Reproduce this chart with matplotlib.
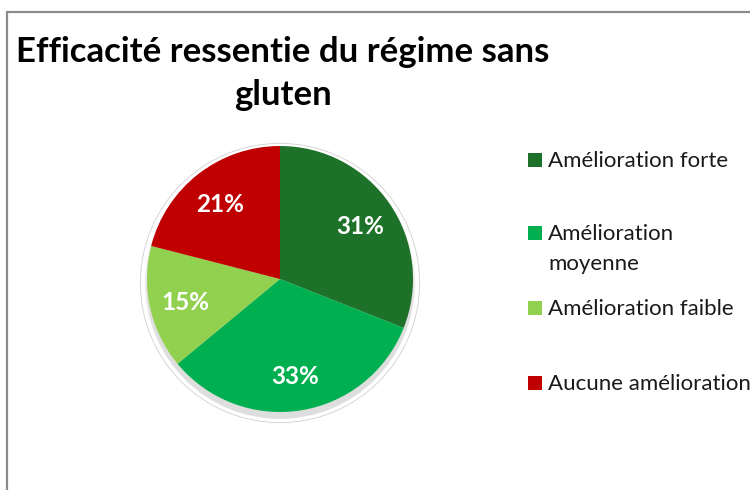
import matplotlib
matplotlib.use("Agg")
import matplotlib.pyplot as plt
from matplotlib.patches import Rectangle, Circle

categories = ["Amélioration forte", "Amélioration\nmoyenne", "Amélioration faible", "Aucune amélioration"]
values = [31, 33, 15, 21]
colors = ["#1E7128", "#00B050", "#92D050", "#C00000"]
title_lines = ["Efficacité ressentie du régime sans", "gluten"]

W, H = 750, 490
fig = plt.figure(figsize=(W / 100, H / 100), dpi=100)
fig.patch.set_facecolor("white")


def fx(px):
    return px / W


def fy(py):
    return 1 - py / H


# chart frame (left and top edges visible)
fig.patches.append(Rectangle((fx(7), -0.1), 1.2, fy(12) + 0.1, transform=fig.transFigure,
                             fill=False, edgecolor="#8C8C8C", linewidth=1.6))

for line, base in zip(title_lines, [62, 105]):
    fig.text(fx(283), fy(base), line, ha="center", va="baseline",
             fontsize=25, fontweight="bold", family="Lato", color="black")

cx, cy, r = 280, 279, 133
ax = fig.add_axes([fx(cx - r), fy(cy + r), 2 * r / W, 2 * r / H])
ax.set_xlim(-1, 1)
ax.set_ylim(-1, 1)
ax.set_aspect("equal")
ax.axis("off")

# soft drop shadow under the pie
for i, a in enumerate([0.025, 0.03, 0.035, 0.04]):
    ax.add_patch(Circle((0, -0.03 - 0.006 * i), 1.0 + 0.02 - 0.005 * i, facecolor="black",
                        alpha=a, edgecolor="none", zorder=0, clip_on=False))
ax.add_patch(Circle((0, -0.03), 1.05, facecolor="none", edgecolor="#D0D0D0", linewidth=0.6,
                    zorder=0, clip_on=False))

wedges, texts, autotexts = ax.pie(values, colors=colors, startangle=90, counterclock=False,
                                  radius=1.0, autopct="%d%%", pctdistance=0.73,
                                  wedgeprops=dict(linewidth=0), textprops=dict(color="white"))
for w in wedges:
    w.set_zorder(2)
for t in autotexts:
    t.set_fontsize(17.5)
    t.set_fontweight("bold")
    t.set_family("Lato")
    t.set_verticalalignment("center_baseline")
    t.set_zorder(3)
ax.set_xlim(-1, 1)
ax.set_ylim(-1, 1)

# legend entries
ys = [160, 233, 308, 383]
for lab, col, y in zip(categories, colors, ys):
    fig.patches.append(Rectangle((fx(528), fy(y + 7)), 14 / W, 14 / H,
                                 transform=fig.transFigure, facecolor=col, edgecolor="none"))
    first, *rest = lab.split("\n")
    fig.text(fx(548), fy(y + 7), first, ha="left", va="baseline",
             fontsize=16, family="Lato", color="#1A1A1A")
    for k, extra in enumerate(rest, start=1):
        fig.text(fx(548), fy(y + 7 + 30 * k), extra, ha="left", va="baseline",
                 fontsize=16, family="Lato", color="#1A1A1A")

fig.savefig("out.png", dpi=100)
